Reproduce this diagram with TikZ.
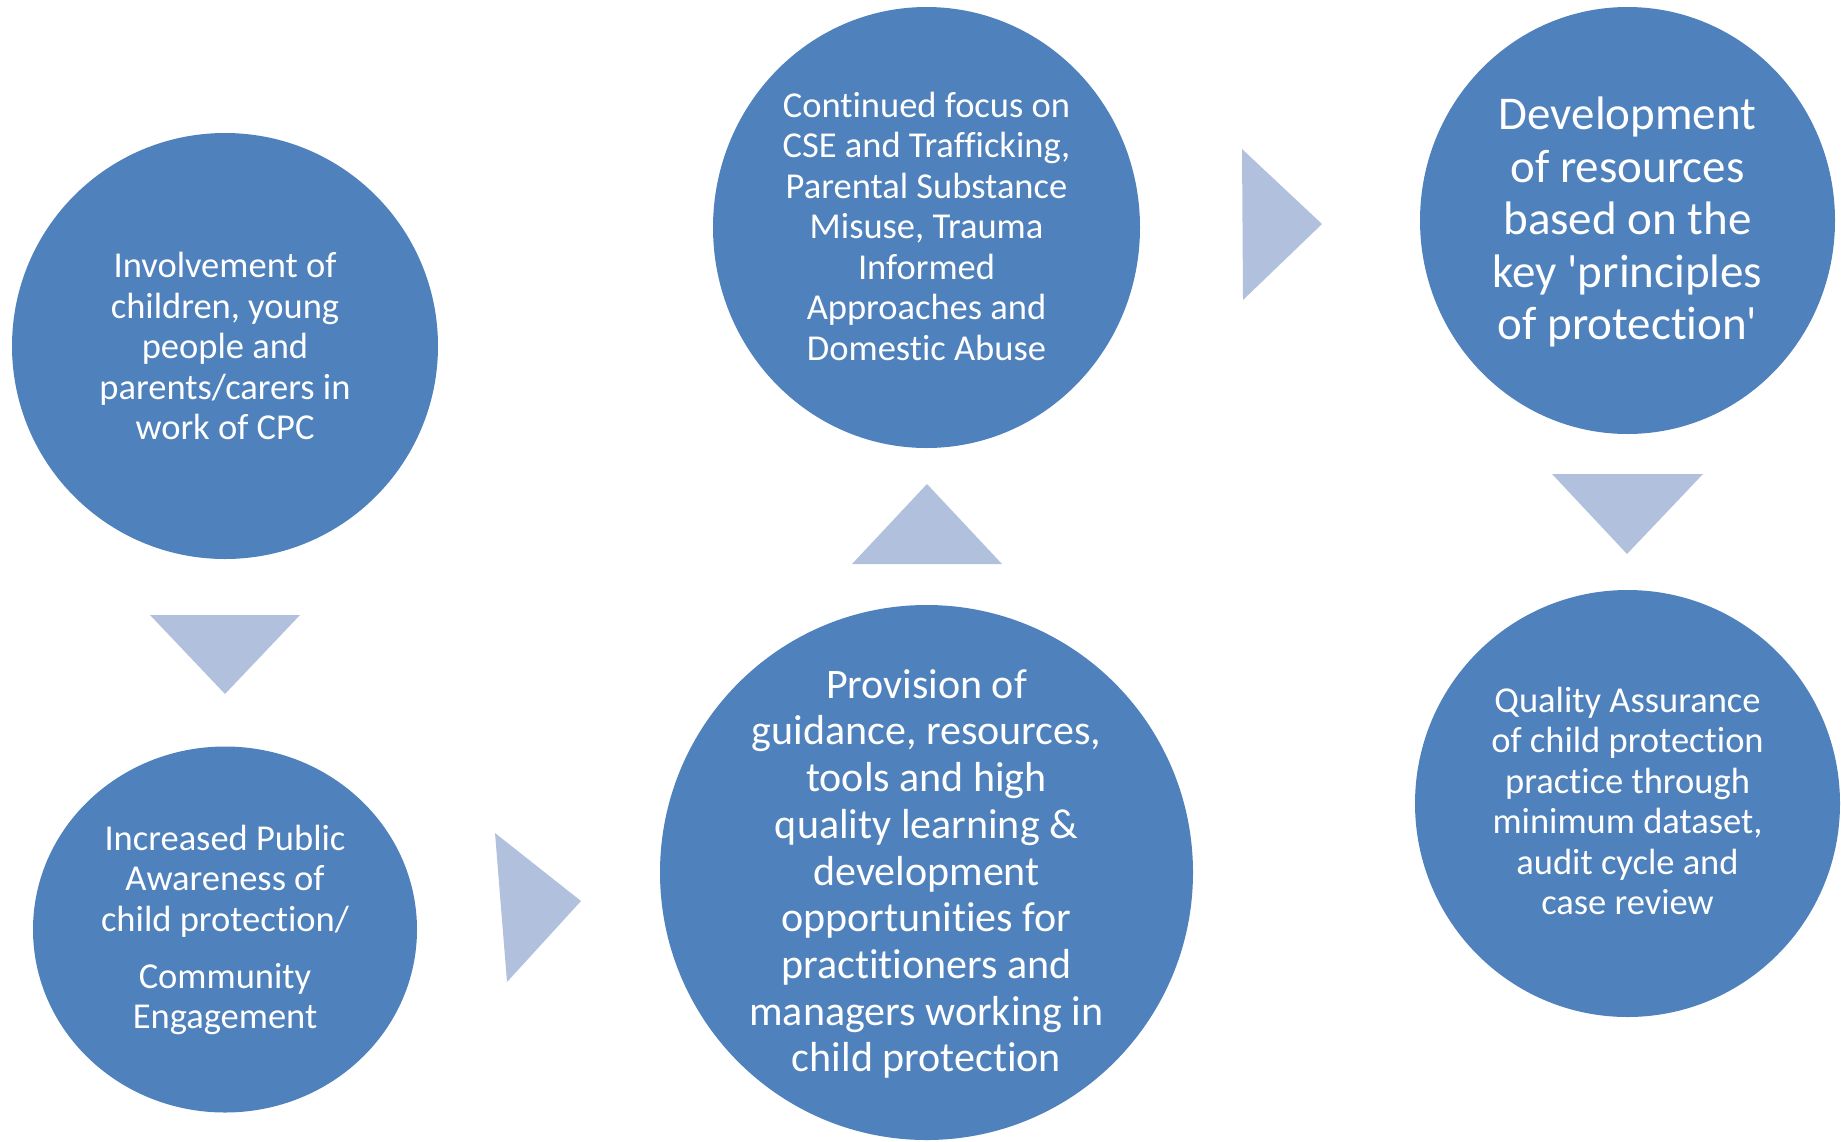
\documentclass[tikz,border=0pt]{standalone}
\usepackage{fontspec}
\setmainfont{Carlito}[Ligatures={TeX,NoCommon}]
\usepackage{tikz}
\definecolor{cycleblue}{RGB}{79,129,189}
\definecolor{paleblue}{RGB}{177,193,221}

\begin{document}
\begin{tikzpicture}[x=1pt,y=-1pt,
    blob/.style={fill=cycleblue},
    pointer/.style={fill=paleblue},
    txt/.style={text=white,align=center,inner sep=0pt,
      font=\fontsize{36.5}{40.5}\selectfont},
    bigtxt/.style={txt,font=\fontsize{42}{46.7}\selectfont},
    hugetxt/.style={txt,font=\fontsize{47}{52.5}\selectfont}]
  \useasboundingbox (0,0) rectangle (1841,1141);
  % the six circles
  \fill[blob] (225,346) circle [radius=213];
  \fill[blob] (225,929.5) ellipse [x radius=192,y radius=183];
  \fill[blob] (926.5,872.5) ellipse [x radius=266.5,y radius=267.5];
  \fill[blob] (926.5,227.5) ellipse [x radius=213.5,y radius=220.5];
  \fill[blob] (1627.5,220.5) ellipse [x radius=207.5,y radius=213.5];
  \fill[blob] (1627.5,803.5) ellipse [x radius=212.5,y radius=213.5];
  % pointers between them
  \fill[pointer] (150,615) -- (300,615) -- (225,694) -- cycle;
  \fill[pointer] (495,833) -- (581,901) -- (507,982) -- cycle;
  \fill[pointer] (852,564) -- (1002,564) -- (927,484) -- cycle;
  \fill[pointer] (1242,149) -- (1322,224) -- (1243,300) -- cycle;
  \fill[pointer] (1552,474) -- (1703,474) -- (1627,554) -- cycle;
  % texts
  \node[txt] (involve) at (225,346)
    {Involvement of\\children, young\\people and\\parents/carers in\\work of CPC};
  \node[txt] (public) at (225,930)
    {Increased Public\\Awareness of\\child protection/\\[16.5pt]Community\\Engagement};
  \node[bigtxt] (provision) at (926.5,874)
    {Provision of\\guidance, resources,\\tools and high\\quality learning \&\\development\\opportunities for\\practitioners and\\managers working in\\child protection};
  \node[txt] (focus) at (926.5,226)
    {Continued focus on\\CSE and Trafficking,\\Parental Substance\\Misuse, Trauma\\Informed\\Approaches and\\Domestic Abuse};
  \node[hugetxt] (develop) at (1627.5,222)
    {Development\\of resources\\based on the\\key \textquotesingle principles\\of protection\textquotesingle};
  \node[txt] (quality) at (1627.5,801)
    {Quality Assurance\\of child protection\\practice through\\minimum dataset,\\audit cycle and\\case review};
\end{tikzpicture}
\end{document}
